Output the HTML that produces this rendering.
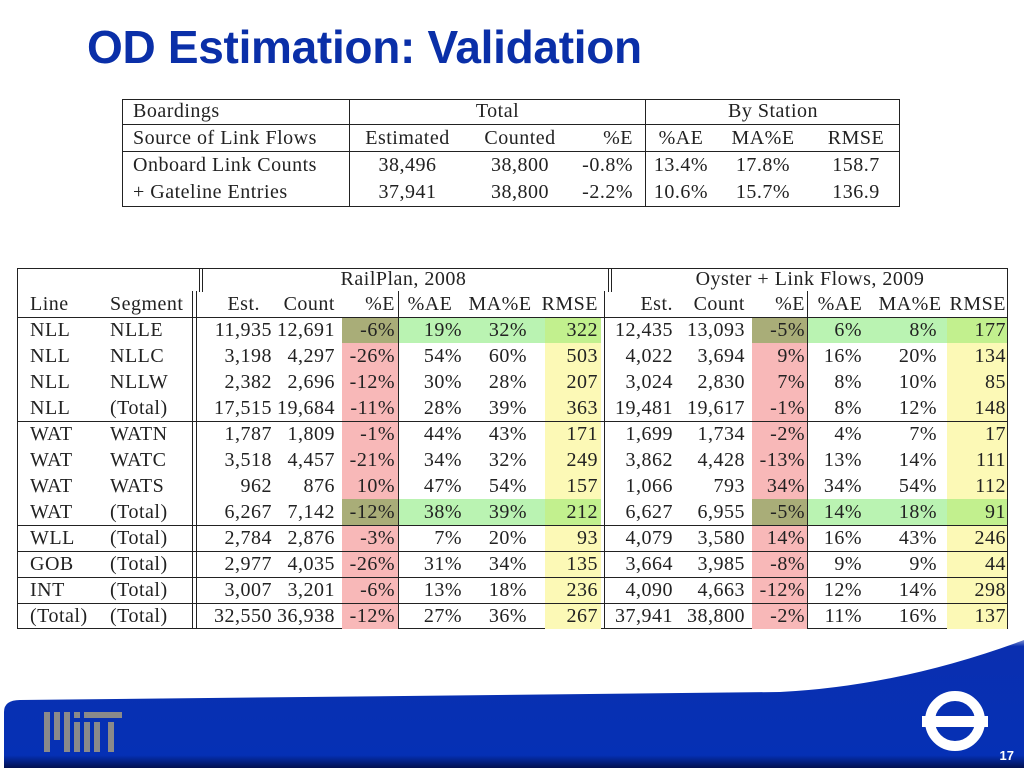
<!DOCTYPE html>
<html><head><meta charset="utf-8">
<style>
body{margin:0;width:1024px;height:768px;background:#fff;position:relative;overflow:hidden;font-family:"Liberation Serif",serif;}
#title{position:absolute;left:87px;top:20px;font:bold 46px "Liberation Sans",sans-serif;color:#0a2fa8;letter-spacing:-0.3px}
.c{position:absolute;font-size:20px;line-height:26px;color:#222;white-space:nowrap;letter-spacing:0.5px}
.r{text-align:right}
.m{text-align:center}
.bg{position:absolute}
.hl{position:absolute;height:1px;background:#222}
.vl{position:absolute;width:1px;background:#222}
</style></head><body>
<div id="title">OD Estimation: Validation</div>

<div id="top" style="position:absolute;left:122px;top:99px;width:778px;height:108px;border:1px solid #222;box-sizing:border-box"></div>
<div id="big" style="position:absolute;left:17px;top:268px;width:991px;height:361px;border:1px solid #222;box-sizing:border-box"></div>

<svg style="position:absolute;left:0;top:640px" width="1024" height="128">
<defs><linearGradient id="g" x1="0" y1="0" x2="0" y2="1"><stop offset="0" stop-color="#7d8fd0"/><stop offset="0.05" stop-color="#0a2fb0"/><stop offset="0.9" stop-color="#0530b5"/><stop offset="1" stop-color="#021050"/></linearGradient></defs>
<path d="M4,128 L4,72 Q4,60 20,60 L780,52 Q900,46 1024,0 L1024,128 Z" fill="url(#g)"/>
<g fill="#8a8a8a" transform="translate(0,20)"><rect x="44" y="52" width="6" height="40"/><rect x="54" y="52" width="6" height="28"/><rect x="64" y="52" width="6" height="40"/><rect x="74" y="62" width="6" height="30"/><rect x="84" y="52" width="20" height="6"/><rect x="84" y="62" width="6" height="30"/><rect x="94" y="62" width="6" height="30"/><rect x="74" y="52" width="6" height="6"/><rect x="104" y="52" width="18" height="6"/><rect x="108" y="62" width="6" height="30"/></g>
<g><circle cx="955" cy="81" r="25" fill="none" stroke="#fff" stroke-width="10"/><rect x="922" y="76" width="66" height="11" fill="#fff"/></g>
<text x="1014" y="120" fill="#fff" font-family="Liberation Sans" font-weight="bold" font-size="13" text-anchor="end">17</text>
</svg>

<script>
function cell(parent,txt,x,y,w,align,name,size){
  const d=document.createElement('div');
  d.className='c '+(align||'');
  d.style.left=x+'px';d.style.top=y+'px';
  if(w)d.style.width=w+'px';
  if(size)d.style.fontSize=size+'px';
  d.textContent=txt;
  
  
  parent.appendChild(d);
}
function box(cls,x,y,w,h,color){
  const d=document.createElement('div');
  d.className=cls;d.style.left=x+'px';d.style.top=y+'px';
  if(w)d.style.width=w+'px';if(h)d.style.height=h+'px';
  if(color)d.style.background=color;
  
  
  document.body.appendChild(d);
}
const B=document.body;
// top table
box('hl',122,124,778,0);box('hl',122,151,778,0);
box('vl',349,99,0,108);box('vl',645,99,0,108);
cell(B,'Boardings',133,98,0,'','header-boardings');
cell(B,'Total',350,98,295,'m','header-total');
cell(B,'By Station',646,98,254,'m','header-by-station');
const topHdr=[['Source of Link Flows',133,0,''],['Estimated',355,105,'m'],['Counted',470,100,'m'],['%E',560,73,'r'],['%AE',646,70,'m'],['MA%E',722,82,'m'],['RMSE',812,88,'m']];
topHdr.forEach(h=>cell(B,h[0],h[1],125,h[2],h[3],'column-header'));
const topRows=[['Onboard Link Counts','38,496','38,800','-0.8%','13.4%','17.8%','158.7'],['+ Gateline Entries','37,941','38,800','-2.2%','10.6%','15.7%','136.9']];
topRows.forEach((r,i)=>{const y=152+i*27;
 cell(B,r[0],133,y,0,'','row-label');
 cell(B,r[1],355,y,105,'m','estimated');cell(B,r[2],470,y,100,'m','counted');
 cell(B,r[3],560,y,73,'r','pct-error');cell(B,r[4],646,y,70,'m','pct-ae');
 cell(B,r[5],722,y,82,'m','ma-pct-e');cell(B,r[6],812,y,88,'m','rmse');});

// big table
const R='#f8b8b8',Y='#fcf9b6',G='#baf3b2',OL='#a9ad78',GY='#c2f08e';
const top0=317,rh=26;
const rows=[
['NLL','NLLE','11,935','12,691','-6%','19%','32%','322','12,435','13,093','-5%','6%','8%','177',1],
['NLL','NLLC','3,198','4,297','-26%','54%','60%','503','4,022','3,694','9%','16%','20%','134',0],
['NLL','NLLW','2,382','2,696','-12%','30%','28%','207','3,024','2,830','7%','8%','10%','85',0],
['NLL','(Total)','17,515','19,684','-11%','28%','39%','363','19,481','19,617','-1%','8%','12%','148',0],
['WAT','WATN','1,787','1,809','-1%','44%','43%','171','1,699','1,734','-2%','4%','7%','17',0],
['WAT','WATC','3,518','4,457','-21%','34%','32%','249','3,862','4,428','-13%','13%','14%','111',0],
['WAT','WATS','962','876','10%','47%','54%','157','1,066','793','34%','34%','54%','112',0],
['WAT','(Total)','6,267','7,142','-12%','38%','39%','212','6,627','6,955','-5%','14%','18%','91',1],
['WLL','(Total)','2,784','2,876','-3%','7%','20%','93','4,079','3,580','14%','16%','43%','246',0],
['GOB','(Total)','2,977','4,035','-26%','31%','34%','135','3,664','3,985','-8%','9%','9%','44',0],
['INT','(Total)','3,007','3,201','-6%','13%','18%','236','4,090','4,663','-12%','12%','14%','298',0],
['(Total)','(Total)','32,550','36,938','-12%','27%','36%','267','37,941','38,800','-2%','11%','16%','137',0]];
const H=rows.length*rh;
box('bg',342,top0,56,H,R);box('bg',545,top0,56,H,Y);
box('bg',752,top0,55,H,R);box('bg',947,top0,60,H,Y);
rows.forEach((r,i)=>{if(r[14]){const y=top0+i*rh;
 box('bg',342,y,56,rh,OL);box('bg',398,y,147,rh,G);box('bg',545,y,56,rh,GY);
 box('bg',752,y,55,rh,OL);box('bg',807,y,140,rh,G);box('bg',947,y,60,rh,GY);}});
// rules
box('hl',17,317,991,0);
[4,8,9,10,11].forEach(k=>box('hl',17,top0+k*rh,991,0));
box('vl',192,291,0,338);box('vl',196,291,0,338);box('vl',199,268,0,24);box('vl',202,268,0,24);
box('vl',604,291,0,338);box('vl',608,268,0,24);box('vl',611,268,0,24);
box('vl',398,291,0,338);box('vl',807,291,0,338);
cell(B,'RailPlan, 2008',203,266,401,'m','railplan-header');
cell(B,'Oyster + Link Flows, 2009',612,266,396,'m','oyster-header');
const hdr=[['Line',30,0,''],['Segment',110,0,''],['Est.',200,60,'r'],['Count',270,65,'r'],['%E',340,55,'r'],['%AE',400,60,'m'],['MA%E',460,80,'m'],['RMSE',535,63,'r'],
['Est.',612,61,'r'],['Count',685,60,'r'],['%E',750,55,'r'],['%AE',810,60,'m'],['MA%E',870,80,'m'],['RMSE',940,66,'r']];
hdr.forEach(h=>cell(B,h[0],h[1],291,h[2],h[3],'column-header'));
// right edges of numeric columns
const cols=[[2,272],[3,335],[4,395],[5,462],[6,527],[7,598],[8,673],[9,745],[10,805],[11,862],[12,937],[13,1006]];
rows.forEach((r,i)=>{const y=top0+i*rh;
 cell(B,r[0],30,y,0,'','line-name');cell(B,r[1],110,y,0,'','segment-name');
 cols.forEach(c=>cell(B,r[c[0]],c[1]-80,y,80,'r','value'));});
</script>
</body></html>
